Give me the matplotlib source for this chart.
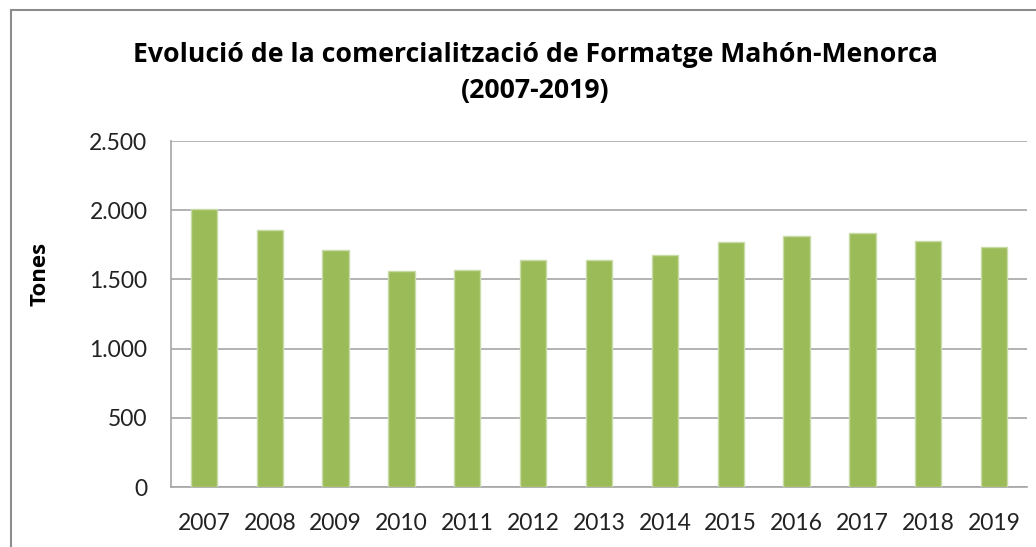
import matplotlib
matplotlib.use("Agg")
import matplotlib.pyplot as plt
from matplotlib.patches import Rectangle
from matplotlib.ticker import FuncFormatter, MultipleLocator

years = ["2007", "2008", "2009", "2010", "2011", "2012", "2013",
         "2014", "2015", "2016", "2017", "2018", "2019"]
tones = [2012, 1856, 1716, 1560, 1567, 1642, 1642,
         1678, 1772, 1817, 1837, 1781, 1735]

title = "Evolució de la comercialització de Formatge Mahón-Menorca\n(2007-2019)"
ylabel = "Tones"

plt.rcParams['font.family'] = ['Lato', 'DejaVu Sans']

W, H = 1036, 547
fig = plt.figure(figsize=(W / 100, H / 100), dpi=100)
fig.patch.set_facecolor("white")

# outer chart border (extends beyond right/bottom edges)
fig.patches.append(Rectangle((11 / W, -0.1), 1.2, 1 - 10 / H + 0.1,
                             transform=fig.transFigure, fill=False,
                             edgecolor="#8c8c8c", linewidth=1.5))

left, right, top, bottom = 171, 1027, 141, 487
ax = fig.add_axes([left / W, 1 - bottom / H, (right - left) / W, (bottom - top) / H])

x = list(range(len(years)))
ax.bar(x, tones, width=0.4, color="#9BBB59", edgecolor="#c9dba6",
       linewidth=1.0, zorder=3)

ax.set_xlim(-0.5, len(years) - 0.5)
ax.set_ylim(0, 2500)
ax.yaxis.set_major_locator(MultipleLocator(500))
ax.yaxis.set_major_formatter(FuncFormatter(lambda v, p: f"{int(v):,}".replace(",", ".")))
ax.set_xticks(x)
ax.set_xticklabels(years)

ax.grid(axis="y", color="#a6a6a6", linewidth=1.2, zorder=0)
for s in ["top", "right"]:
    ax.spines[s].set_visible(False)
ax.spines["left"].set_color("#a6a6a6")
ax.spines["bottom"].set_color("#a6a6a6")
ax.spines["left"].set_linewidth(1.2)
ax.spines["bottom"].set_linewidth(1.2)
ax.tick_params(axis="both", length=0, labelsize=16.5, colors="#222222")
ax.tick_params(axis="y", pad=17)
ax.tick_params(axis="x", pad=19)

fig.text(40 / W, 1 - 274 / H, ylabel, rotation=90, ha="center", va="center",
         fontsize=16, fontweight="bold", family=["Open Sans", "DejaVu Sans"])

fig.text(535 / W, 1 - 73 / H, title, ha="center", va="center",
         fontsize=19.2, fontweight="bold", linespacing=1.5,
         family=["Open Sans", "DejaVu Sans"])

fig.savefig("out.png", dpi=100, facecolor="white")
